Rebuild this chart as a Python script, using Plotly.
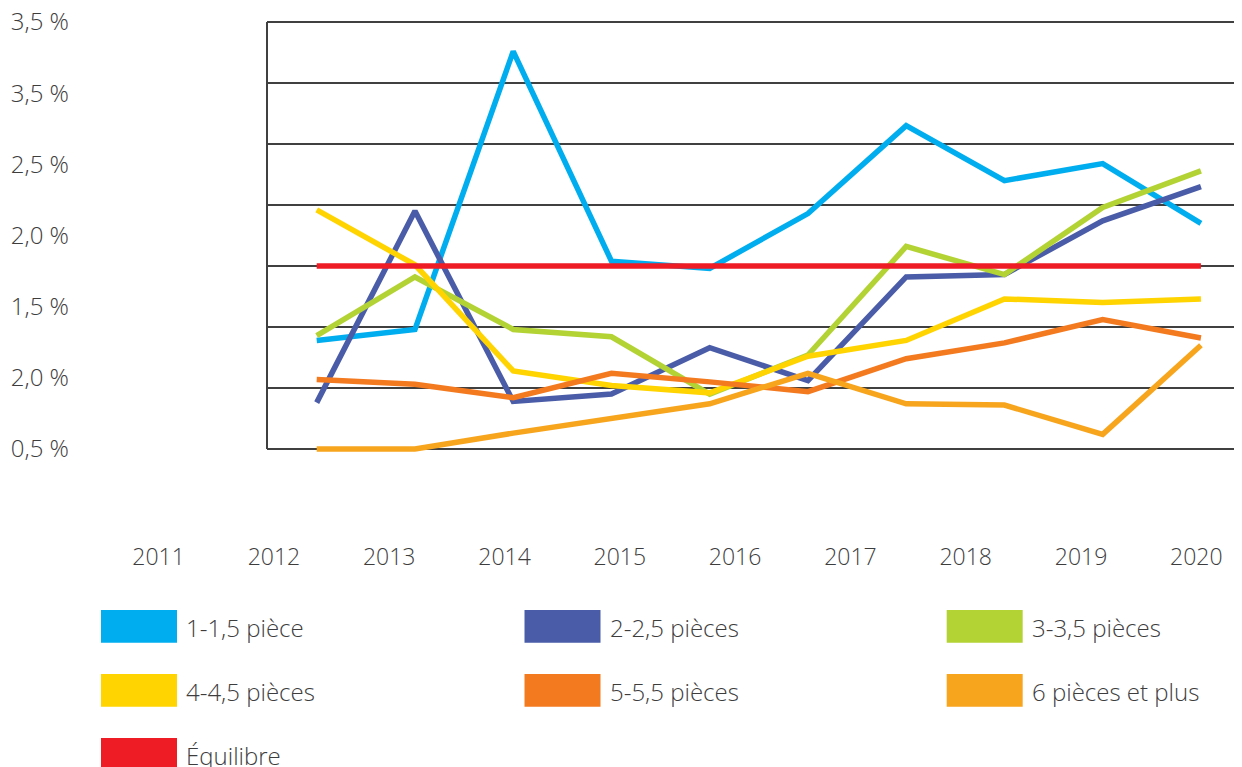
import plotly.graph_objects as go

# ---------------- data ----------------
years = [2011, 2012, 2013, 2014, 2015, 2016, 2017, 2018, 2019, 2020]
year_labels = ["2011", "2012", "2013", "2014", "2015", "2016", "2017", "2018", "2019", "2020"]

# tick labels exactly as printed on the source (bottom to top)
y_tick_labels = ["0,5 %", "2,0 %", "1,5 %", "2,0 %", "2,5 %", "3,5 %", "3,5 %"]

series_names = ["1-1,5 pièce", "2-2,5 pièces", "3-3,5 pièces",
                "4-4,5 pièces", "5-5,5 pièces", "6 pièces et plus", "Équilibre"]

pieces_1 = [0.89, 0.98, 3.26, 1.54, 1.48, 1.93, 2.65, 2.20, 2.34, 1.85]
pieces_2 = [0.38, 1.95, 0.39, 0.45, 0.83, 0.56, 1.41, 1.43, 1.87, 2.15]
pieces_3 = [0.93, 1.41, 0.98, 0.92, 0.45, 0.77, 1.66, 1.43, 1.98, 2.28]
pieces_4 = [1.96, 1.51, 0.64, 0.52, 0.46, 0.76, 0.89, 1.23, 1.20, 1.23]
pieces_5 = [0.57, 0.53, 0.42, 0.62, 0.55, 0.47, 0.74, 0.87, 1.06, 0.91]
pieces_6 = [0.00, 0.00, 0.13, 0.25, 0.37, 0.62, 0.37, 0.36, 0.12, 0.85]
equilibre = [1.5, 1.5, 1.5, 1.5, 1.5, 1.5, 1.5, 1.5, 1.5, 1.5]

series_values = [pieces_1, pieces_2, pieces_3, pieces_4, pieces_5, pieces_6, equilibre]

# ---------------- styles ----------------
colors = ["#00AEEF", "#4A5CA8", "#B3D334", "#FFD400", "#F47A20", "#F8A51E", "#EE1C25"]
OFF = 8                      # page body margin of the browser
W, H = 1242 - OFF, 767 - OFF
TXT = "#3d3d3d"
FONT_LEG = dict(family="Open Sans", size=24, color=TXT, weight=300)
FONT_Y = dict(family="Open Sans", size=24, color=TXT, weight=300)
FONT_X = dict(family="Open Sans", size=23, color=TXT, weight=300)
GRID = "#404040"


def px(x):
    return (x - OFF) / W


def py(y):
    return 1 - (y - OFF) / H


fig = go.Figure()
for name, vals, col in zip(series_names, series_values, colors):
    fig.add_trace(go.Scatter(x=years, y=vals, mode="lines", name=name,
                             line=dict(color=col, width=5.5),
                             showlegend=False))
# carrier trace for the label axes
fig.add_trace(go.Scatter(x=[None], y=[None], xaxis="x2", yaxis="y2",
                         showlegend=False, hoverinfo="skip"))

# legend (drawn manually, large colour blocks)
col_x = [101, 524.5, 946.7]
row_top = [610, 674, 738]
sw_w, sw_h = 76, 32.7
shapes = []
annotations = []
for i, (name, col) in enumerate(zip(series_names, colors)):
    r, c = divmod(i, 3)
    x0 = col_x[c]
    t = row_top[r]
    shapes.append(dict(type="rect", xref="paper", yref="paper",
                       x0=px(x0), x1=px(x0 + sw_w),
                       y0=py(t + sw_h), y1=py(t),
                       fillcolor=col, line=dict(width=0), layer="above"))
    annotations.append(dict(x=px(x0 + sw_w + 7), y=py(t + sw_h / 2 + 1),
                            xref="paper", yref="paper", xanchor="left", yanchor="middle",
                            text=name, showarrow=False, font=FONT_LEG))

# left border of plot area
shapes.append(dict(type="line", xref="x domain", yref="y", x0=0, x1=0, y0=0, y1=3.5,
                   line=dict(color=GRID, width=2), layer="below"))

# label-axis ranges (labels are spaced independently of data, as on the source)
lab_step = 115.3
x2a = years[0] - (158.6 - OFF) / lab_step
x2b = x2a + W / lab_step

fig.update_layout(
    width=W, height=H, template="none",
    margin=dict(l=0, r=0, t=0, b=0),
    paper_bgcolor="white", plot_bgcolor="rgba(0,0,0,0)",
    showlegend=False,
    xaxis=dict(domain=[px(267), 1], range=[2010.494, 2020.418],
               showgrid=False, zeroline=False, showticklabels=False,
               ticks="", showline=False, fixedrange=True),
    yaxis=dict(domain=[py(453), py(18)], range=[-0.033, 3.533],
               tick0=0, dtick=0.5, showgrid=True, gridcolor=GRID, gridwidth=2,
               zeroline=False, showticklabels=False, ticks="", showline=False,
               fixedrange=True),
    xaxis2=dict(domain=[0, 1], range=[x2a, x2b], anchor="free",
                position=py(541), tickvals=years, ticktext=year_labels,
                showgrid=False, zeroline=False, showline=False, ticks="",
                tickfont=FONT_X, ticklabeloverflow="allow", fixedrange=True),
    yaxis2=dict(domain=[py(449), py(22)], range=[0, len(y_tick_labels) - 1],
                anchor="free", position=px(69),
                tickvals=list(range(len(y_tick_labels))), ticktext=y_tick_labels,
                showgrid=False, zeroline=False, showline=False, ticks="",
                tickfont=FONT_Y, ticklabeloverflow="allow", fixedrange=True),
    shapes=shapes, annotations=annotations,
)

fig.write_html("out.html")
